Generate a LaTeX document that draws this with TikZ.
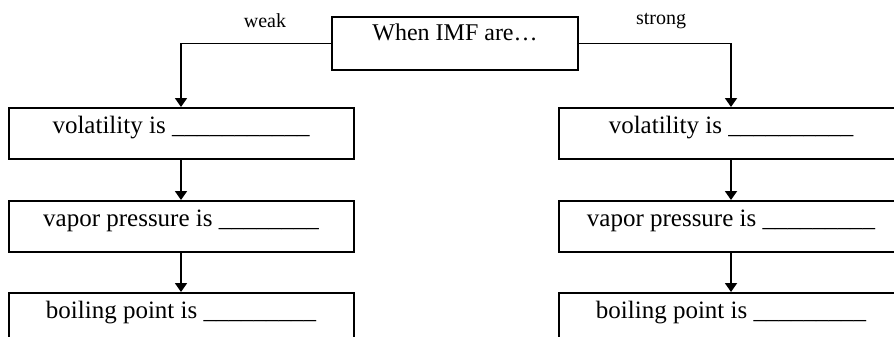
\documentclass[tikz,border=0pt]{standalone}
\usepackage{fontspec}
\setmainfont{Liberation Serif}
\usetikzlibrary{positioning,arrows.meta}

\tikzset{
  box/.style={draw, line width=2pt, inner sep=0pt, minimum width=345pt,
    anchor=north, font=\fontsize{25}{30}\selectfont,
    text height=25pt, text depth=26pt},
  link/.style={line width=1.8pt, -{Triangle[width=12pt,length=9pt]}},
  label/.style={anchor=base, font=\fontsize{20}{24}\selectfont}
}

\begin{document}
\begin{tikzpicture}[x=1pt, y=-1pt]
        \clip (0,0) rectangle (894,337);
        % Top question
        \node [box, minimum width=246pt, font=\fontsize{24}{28}\selectfont,
               text height=24pt, text depth=29pt] (imf) at (455,16) {When IMF are…};
        \node [label] (weak) at (265,28) {weak};
        \node [label] (strong) at (661,25) {strong};
        % Weak column
        \node [box] (lvol) at (181,107) {volatility is \_\_\_\_\_\_\_\_\_\_\_};
        \node [box, below=40pt of lvol] (lvap) {vapor pressure is \_\_\_\_\_\_\_\_};
        \node [box, below=39pt of lvap] (lboil) {boiling point is \_\_\_\_\_\_\_\_\_};
        % Strong column
        \node [box] (rvol) at (731,107) {volatility is \_\_\_\_\_\_\_\_\_\_};
        \node [box, below=40pt of rvol] (rvap) {vapor pressure is \_\_\_\_\_\_\_\_\_};
        \node [box, below=39pt of rvap] (rboil) {boiling point is \_\_\_\_\_\_\_\_\_};
        % Arrows
        \draw [link] (imf.west) -| (lvol.north);
        \draw [link] (imf.east) -| (rvol.north);
        \draw [link] (lvol) -- (lvap);
        \draw [link] (lvap) -- (lboil);
        \draw [link] (rvol) -- (rvap);
        \draw [link] (rvap) -- (rboil);
\end{tikzpicture}
\end{document}
